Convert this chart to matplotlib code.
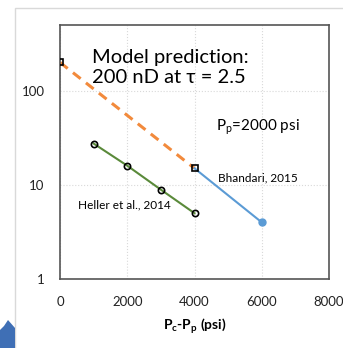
import numpy as np
import matplotlib
matplotlib.use("Agg")
import matplotlib.pyplot as plt
from matplotlib.patches import Rectangle, Polygon

# Datos
x_model = [0, 4000]
k_model = [200, 15]
x_bhandari = [4000, 6000]
k_bhandari = [15, 4]
x_heller = [1000, 2000, 3000, 4000]
k_heller = [27.5, 16, 8.9, 5.0]

xticks = [0, 2000, 4000, 6000, 8000]
yticks = [1, 10, 100]

plt.rcParams['font.family'] = ['Liberation Sans Narrow', 'Lato', 'DejaVu Sans']

fig = plt.figure(figsize=(3.43, 3.48), dpi=100)
ax = fig.add_axes([60/343, 1 - 279/348, 269/343, 254/348])

ax.plot(x_model, k_model, color='#f28a3c', lw=2.2, ls=(0, (3.2, 2.2)), zorder=2)
ax.plot(x_model, k_model, ls='none', marker='s', ms=5, mfc='none', mec='black', mew=1.2, zorder=4)
ax.plot(x_bhandari, k_bhandari, color='#5b9bd5', lw=1.5, zorder=3)
ax.plot(x_bhandari[1:], k_bhandari[1:], ls='none', marker='o', ms=5, color='#5b9bd5', zorder=4)
ax.plot(x_heller, k_heller, color='#5a8a3a', lw=1.5, marker='o', ms=4.5, mfc='none', mec='black', mew=1.2, zorder=3)

ax.set_yscale('log')
ax.set_xlim(0, 8000)
ax.set_ylim(1, 500)
ax.set_xticks(xticks)
ax.set_xticklabels([str(v) for v in xticks])
ax.set_yticks(yticks)
ax.set_yticklabels([str(v) for v in yticks])
ax.minorticks_off()
ax.tick_params(length=0, labelsize=9.5, colors='#222222')
ax.tick_params(axis='y', pad=11)
ax.tick_params(axis='x', pad=12)
ax.grid(True, color='#d9d9d9', ls=':', lw=0.8)
for s in ax.spines.values():
    s.set_color('#555555')
    s.set_linewidth(1.2)

ax.set_xlabel('P$_\\mathregular{c}$-P$_\\mathregular{p}$ (psi)', fontsize=10, fontweight='bold', labelpad=6)

ax.text(950, 122, 'Model prediction:\n200 nD at \u03c4 = 2.5', fontsize=14.5, family=['Lato', 'DejaVu Sans'], color='black', linespacing=1.2)
ax.text(4650, 38, 'P$_\\mathregular{p}$=2000 psi', fontsize=11, family=['Lato', 'DejaVu Sans'])
ax.text(4700, 11, 'Bhandari, 2015', fontsize=8.5)
ax.text(550, 5.6, 'Heller et al., 2014', fontsize=8.5)

# marco exterior del gráfico
fig.patches.append(Rectangle((15/343, -0.01), 1, 1 - 8/348 + 0.01, transform=fig.transFigure,
                             fill=False, ec='#d9d9d9', lw=1))
# forma azul en la esquina inferior izquierda
fig.patches.append(Polygon([(0, 0), (15/343, 0), (15/343, 20/348), (8/343, 28/348), (4/343, 22/348), (0, 18/348)],
                           closed=True, transform=fig.transFigure, fc='#3f6fb5', ec='none'))

fig.savefig('out.png', dpi=100)
